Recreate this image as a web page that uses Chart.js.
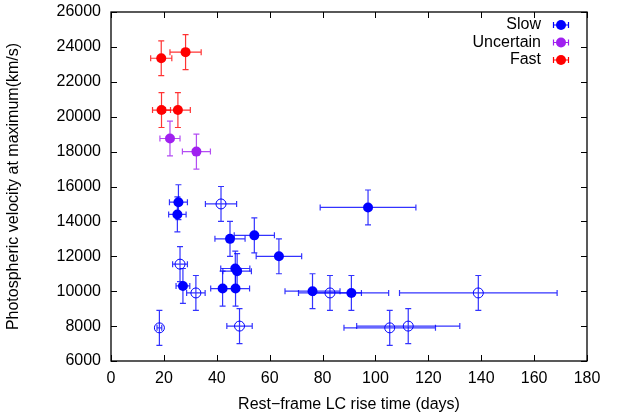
<!DOCTYPE html>
<html>
<head>
<meta charset="utf-8">
<script src="https://cdn.jsdelivr.net/npm/chart.js@4.4.1/dist/chart.umd.min.js"></script>
<style>
  html, body { margin: 0; padding: 0; background: #fff; }
  #wrap { width: 627px; height: 418px; }
</style>
</head>
<body>
<div id="wrap"><canvas id="chart"></canvas></div>
<script>
// rise time (days) and photospheric velocity (km/s), with errors
const slowFilledX    = [25.5, 25.1, 45.0, 54.2, 63.5, 47.0, 47.7, 27.2, 42.2, 47.1, 97.2, 76.2, 90.9];
const slowFilledY    = [15100, 14400, 13000, 13200, 12000, 11300, 11150, 10300, 10150, 10150, 14800, 10000, 9900];
const slowFilledXErr = [3.4, 3.3, 5.7, 7.6, 8.6, 5.5, 5.4, 2.6, 4.5, 5.3, 18.1, 10.4, 14.1];
const slowFilledYErr = [1000, 1000, 1000, 1000, 1000, 1000, 1000, 1000, 1000, 1000, 1000, 1000, 1000];

const slowOpenX    = [41.6, 26.1, 32.1, 18.3, 48.6, 82.8, 138.9, 105.4, 112.4];
const slowOpenY    = [15000, 11550, 9900, 7900, 8000, 9900, 9900, 7900, 8000];
const slowOpenXErr = [5.9, 2.8, 3.5, 0.9, 4.8, 11.9, 29.8, 17.3, 19.5];
const slowOpenYErr = [1000, 1000, 1000, 1000, 1000, 1000, 1000, 1000, 1000];

const uncertainX    = [22.3, 32.3];
const uncertainY    = [18750, 18000];
const uncertainXErr = [3.8, 5.3];
const uncertainYErr = [1000, 1000];

const fastX    = [19.0, 28.2, 19.1, 25.3];
const fastY    = [23350, 23700, 20380, 20380];
const fastXErr = [4.0, 5.9, 3.4, 4.7];
const fastYErr = [1000, 1000, 1000, 1000];

const xTicks = [0, 20, 40, 60, 80, 100, 120, 140, 160, 180];
const yTicks = [6000, 8000, 10000, 12000, 14000, 16000, 18000, 20000, 22000, 24000, 26000];

const legendLabels = ['Slow', 'Uncertain', 'Fast'];

const BLUE = '#0000ff';
const PURPLE = '#a020f0';
const RED = '#ff0000';
const FONT = '"Liberation Sans", Arial, sans-serif';

function pts(xs, ys, xe, ye) {
    return xs.map((x, i) => ({ x: x, y: ys[i], xErr: xe[i], yErr: ye[i] }));
}

// error bars drawn under the markers
const errorBars = {
    id: 'errorBars',
    beforeDatasetsDraw(chart) {
        const ctx = chart.ctx;
        const xs = chart.scales.x, ys = chart.scales.y;
        const cap = 3;
        ctx.save();
        ctx.lineWidth = 1.2;
        chart.data.datasets.forEach(ds => {
            ctx.strokeStyle = ds.errColor;
            ds.data.forEach(p => {
                const px = xs.getPixelForValue(p.x), py = ys.getPixelForValue(p.y);
                const x0 = xs.getPixelForValue(p.x - p.xErr), x1 = xs.getPixelForValue(p.x + p.xErr);
                const y0 = ys.getPixelForValue(p.y - p.yErr), y1 = ys.getPixelForValue(p.y + p.yErr);
                ctx.beginPath();
                ctx.moveTo(x0, py); ctx.lineTo(x1, py);
                ctx.moveTo(x0, py - cap); ctx.lineTo(x0, py + cap);
                ctx.moveTo(x1, py - cap); ctx.lineTo(x1, py + cap);
                ctx.moveTo(px, y0); ctx.lineTo(px, y1);
                ctx.moveTo(px - cap, y0); ctx.lineTo(px + cap, y0);
                ctx.moveTo(px - cap, y1); ctx.lineTo(px + cap, y1);
                ctx.stroke();
            });
        });
        ctx.restore();
    }
};

// gnuplot-like frame, inward ticks and key
const frame = {
    id: 'frame',
    afterDraw(chart) {
        const ctx = chart.ctx;
        const a = chart.chartArea;
        const xs = chart.scales.x, ys = chart.scales.y;
        const tl = 6;
        ctx.save();
        ctx.strokeStyle = '#000';
        ctx.lineWidth = 1.3;
        ctx.strokeRect(a.left, a.top, a.right - a.left, a.bottom - a.top);
        ctx.lineWidth = 1;
        ctx.beginPath();
        xTicks.forEach(v => {
            const px = Math.round(xs.getPixelForValue(v)) + 0.5;
            ctx.moveTo(px, a.bottom); ctx.lineTo(px, a.bottom - tl);
            ctx.moveTo(px, a.top); ctx.lineTo(px, a.top + tl);
        });
        yTicks.forEach(v => {
            const py = Math.round(ys.getPixelForValue(v)) + 0.5;
            ctx.moveTo(a.left, py); ctx.lineTo(a.left + tl, py);
            ctx.moveTo(a.right, py); ctx.lineTo(a.right - tl, py);
        });
        ctx.stroke();

        // key
        const colors = [BLUE, PURPLE, RED];
        const textRight = 541, mx = 561;
        const rows = [25, 42.5, 60];
        ctx.font = '16px ' + FONT;
        ctx.textAlign = 'right';
        ctx.textBaseline = 'middle';
        legendLabels.forEach((lab, i) => {
            const y = rows[i];
            ctx.fillStyle = '#000';
            ctx.fillText(lab, textRight, y);
            ctx.strokeStyle = colors[i];
            ctx.lineWidth = 1.2;
            ctx.beginPath();
            ctx.moveTo(mx - 7.5, y); ctx.lineTo(mx + 7.5, y);
            ctx.moveTo(mx - 7.5, y - 3); ctx.lineTo(mx - 7.5, y + 3);
            ctx.moveTo(mx + 7.5, y - 3); ctx.lineTo(mx + 7.5, y + 3);
            ctx.stroke();
            ctx.fillStyle = colors[i];
            ctx.beginPath();
            ctx.arc(mx, y, 5, 0, Math.PI * 2);
            ctx.fill();
        });
        ctx.restore();
    }
};

new Chart(document.getElementById('chart'), {
    type: 'scatter',
    data: {
        datasets: [
            {
                label: 'Slow (open)',
                data: pts(slowOpenX, slowOpenY, slowOpenXErr, slowOpenYErr),
                errColor: 'rgba(0,0,255,0.8)',
                pointRadius: 5,
                pointBackgroundColor: 'rgba(255,255,255,0)',
                pointBorderColor: BLUE,
                pointBorderWidth: 1
            },
            {
                label: 'Slow',
                data: pts(slowFilledX, slowFilledY, slowFilledXErr, slowFilledYErr),
                errColor: 'rgba(0,0,255,0.8)',
                pointRadius: 5,
                pointBackgroundColor: BLUE,
                pointBorderColor: BLUE,
                pointBorderWidth: 0
            },
            {
                label: 'Uncertain',
                data: pts(uncertainX, uncertainY, uncertainXErr, uncertainYErr),
                errColor: 'rgba(160,32,240,0.8)',
                pointRadius: 5,
                pointBackgroundColor: PURPLE,
                pointBorderColor: PURPLE,
                pointBorderWidth: 0
            },
            {
                label: 'Fast',
                data: pts(fastX, fastY, fastXErr, fastYErr),
                errColor: 'rgba(255,0,0,0.8)',
                pointRadius: 5,
                pointBackgroundColor: RED,
                pointBorderColor: RED,
                pointBorderWidth: 0
            }
        ]
    },
    options: {
        responsive: true,
        maintainAspectRatio: false,
        animation: false,
        layout: { padding: { top: 12, right: 40, left: 0, bottom: 0 } },
        plugins: {
            legend: { display: false },
            tooltip: { enabled: false }
        },
        scales: {
            x: {
                type: 'linear',
                min: 0, max: 180,
                afterFit(scale) {
                    scale.height = 57;
                    scale.paddingLeft = 0; scale.paddingRight = 0;
                },
                afterBuildTicks(scale) { scale.ticks = xTicks.map(v => ({ value: v })); },
                grid: { display: false, drawTicks: false },
                border: { display: false },
                ticks: { color: '#000', padding: 8, font: { family: FONT, size: 16 }, maxRotation: 0, callback: v => String(v) },
                title: {
                    display: true,
                    text: 'Rest\u2212frame LC rise time (days)',
                    color: '#000',
                    font: { family: FONT, size: 16 },
                    padding: { top: 0, bottom: 4 }
                }
            },
            y: {
                type: 'linear',
                min: 6000, max: 26000,
                afterFit(scale) {
                    scale.width = 111;
                    scale.paddingTop = 0; scale.paddingBottom = 0;
                },
                afterBuildTicks(scale) { scale.ticks = yTicks.map(v => ({ value: v })); },
                grid: { display: false, drawTicks: false },
                border: { display: false },
                ticks: { color: '#000', padding: 10, font: { family: FONT, size: 16 }, callback: v => String(v) },
                title: {
                    display: true,
                    text: 'Photospheric velocity at maximum(km/s)',
                    color: '#000',
                    font: { family: FONT, size: 16 },
                    padding: { top: 4, bottom: 0 }
                }
            }
        }
    },
    plugins: [errorBars, frame]
});
</script>
</body>
</html>
